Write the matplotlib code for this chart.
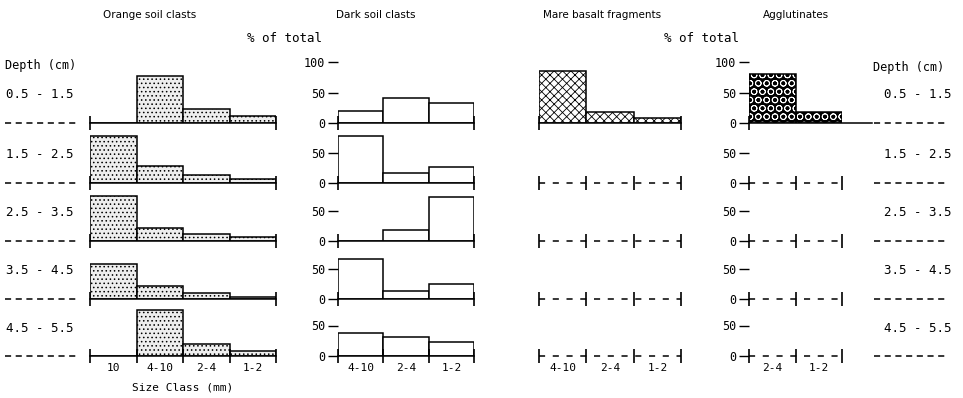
import matplotlib.pyplot as plt
import numpy as np

plt.rcParams['hatch.linewidth'] = 0.6
MONO = 'DejaVu Sans Mono'

# data (% of total per size class, one row per depth interval)
depths = ["0.5 - 1.5", "1.5 - 2.5", "2.5 - 3.5", "3.5 - 4.5", "4.5 - 5.5"]

orange_classes = ["10", "4-10", "2-4", "1-2"]
orange = [[0, 77, 23, 12],
          [77, 28, 13, 6],
          [74, 21, 11, 7],
          [58, 21, 10, 4],
          [0, 75, 19, 8]]

dark_classes = ["4-10", "2-4", "1-2"]
dark = [[19, 41, 32],
        [77, 17, 26],
        [0, 18, 72],
        [65, 13, 25],
        [38, 31, 23]]

basalt_classes = ["4-10", "2-4", "1-2"]
basalt = [[86, 18, 8],
          [0, 0, 0],
          [0, 0, 0],
          [0, 0, 0],
          [0, 0, 0]]

agg_classes = ["2-4", "1-2"]
agg = [[80, 18],
       [0, 0],
       [0, 0],
       [0, 0],
       [0, 0]]

W, H = 963, 398
fig = plt.figure(figsize=(W / 100, H / 100), dpi=100)
fig.patch.set_facecolor('white')

# overlay in pixel coords for labels and depth dashes
ov = fig.add_axes([0, 0, 1, 1])
ov.set_xlim(0, W)
ov.set_ylim(H, 0)
ov.axis('off')

base_y = [123, 183, 241, 299, 356]
unit = 61  # pixels for 100 %


def make_ax(x0, x1, base):
    ax = fig.add_axes([x0 / W, 1 - base / H, (x1 - x0) / W, unit / H])
    ax.patch.set_visible(False)
    for s in ax.spines.values():
        s.set_visible(False)
    ax.set_ylim(0, 100)
    return ax


def panel(x0, x1, base, vals, classes, style, edges, yt=None,
          dashed=False, bottom=False, extend=None):
    n = len(classes)
    ax = make_ax(x0, x1, base)
    ax.set_xlim(0, n)
    x = np.arange(n)
    v = np.array(vals)
    if v.sum() > 0:
        if style == 'orange':
            ax.bar(x, v, 1, align='edge', facecolor='#eeeeee',
                   edgecolor='black', hatch='....', lw=1.1)
        elif style == 'dark':
            ax.bar(x, v, 1, align='edge', facecolor='white',
                   edgecolor='black', lw=1.1)
        elif style == 'basalt':
            ax.bar(x, v, 1, align='edge', facecolor='white',
                   edgecolor='black', hatch='xxxx', lw=1.1)
        else:
            ax.bar(x, v, 1, align='edge', color='black', lw=0)
            ax.bar(x, v, 1, align='edge', facecolor='none',
                   edgecolor='white', hatch='OO', lw=0)
            ax.bar(x, v, 1, align='edge', facecolor='none',
                   edgecolor='black', lw=1.1)
    ls = (0, (4, 5)) if dashed else '-'
    xmax = 1 if extend is None else extend
    ax.axhline(0, xmin=0, xmax=xmax, color='black', lw=1.1, ls=ls,
               clip_on=False)
    ax.set_xticks(edges)
    ax.tick_params(axis='x', which='major', direction='inout', length=10,
                   width=1.2, labelbottom=False)
    if yt:
        ax.set_yticks(yt)
        ax.set_yticklabels([str(t) for t in yt], fontfamily=MONO)
        ax.tick_params(axis='y', direction='out', length=7, width=1,
                       pad=2, labelsize=8.5)
    else:
        ax.set_yticks([])
    if bottom:
        ax.set_xticks(x + 0.5, labels=classes, minor=True, fontfamily=MONO)
        ax.tick_params(axis='x', which='minor', length=0, labelsize=8, pad=5)
    return ax


for i, b in enumerate(base_y):
    last = i == 4
    # orange soil clasts
    panel(90, 276, b, orange[i], orange_classes, 'orange',
          [0, 1, 2, 3, 4] if last else [0, 4], bottom=last)
    # dark soil clasts
    panel(338, 474, b, dark[i], dark_classes, 'dark',
          [0, 1, 2, 3] if last else [0, 3],
          yt=[0, 50, 100] if i == 0 else [0, 50], bottom=last)
    # mare basalt fragments
    panel(539, 681, b, basalt[i], basalt_classes, 'basalt',
          [0, 3] if i == 0 else [0, 1, 2, 3], dashed=i > 0, bottom=last)
    # agglutinates
    panel(749, 842, b, agg[i], agg_classes, 'agg',
          [0] if i == 0 else [0, 1, 2],
          yt=[0, 50, 100] if i == 0 else [0, 50], dashed=i > 0,
          bottom=last, extend=(872 - 749) / (842 - 749) if i == 0 else None)

    # depth labels and dashes on both sides
    ov.text(6, b - 28, depths[i], fontfamily=MONO, fontsize=9,
            ha='left', va='center')
    ov.text(884, b - 28, depths[i], fontfamily=MONO, fontsize=9,
            ha='left', va='center')
    ov.plot([5, 77], [b, b], color='black', lw=1.1, ls=(0, (4, 3)))
    ov.plot([874, 948], [b, b], color='black', lw=1.1, ls=(0, (4, 3)))

# titles and headers
for tx, t in [(150, "Orange soil clasts"), (376, "Dark soil clasts"),
              (602, "Mare basalt fragments"), (796, "Agglutinates")]:
    ov.text(tx, 15, t, fontsize=7.5, ha='center', va='center')

ov.text(247, 38, "% of total", fontfamily=MONO, fontsize=9,
        ha='left', va='center')
ov.text(664, 38, "% of total", fontfamily=MONO, fontsize=9,
        ha='left', va='center')
ov.text(5, 66, "Depth (cm)", fontfamily=MONO, fontsize=8.5,
        ha='left', va='center')
ov.text(873, 67, "Depth (cm)", fontfamily=MONO, fontsize=8.5,
        ha='left', va='center')
ov.text(183, 388, "Size Class (mm)", fontfamily=MONO, fontsize=8,
        ha='center', va='center')

fig.savefig('out.png', dpi=100)
